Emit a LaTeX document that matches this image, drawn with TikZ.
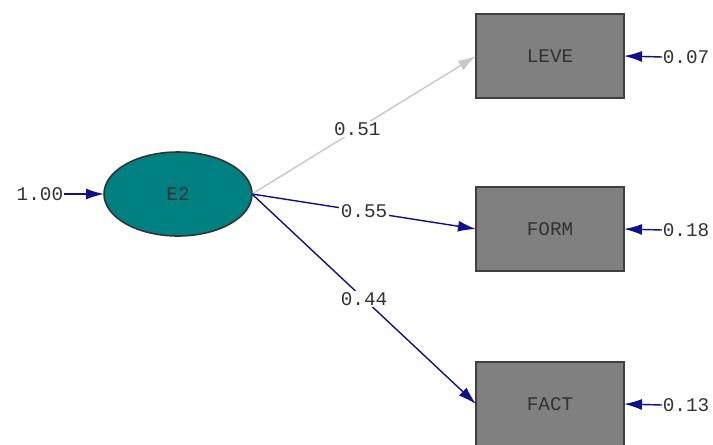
\documentclass[tikz,border=0pt]{standalone}
\usepackage{fontspec}
\setmonofont{Liberation Mono}
\usepackage{xcolor}
\usepackage{tikz}
\usetikzlibrary{arrows.meta, shapes.geometric}

\definecolor{tuerkis}{RGB}{0,128,128}
\definecolor{kasten}{RGB}{128,128,128}
\definecolor{marine}{RGB}{16,16,140}
\definecolor{hellgrau}{RGB}{200,200,200}
\definecolor{schrift}{RGB}{50,50,50}

\begin{document}
\begin{tikzpicture}[
    font=\ttfamily\fontsize{11}{13}\selectfont, text=schrift,
    latent/.style={ellipse, draw=black!80, line width=0.9pt, fill=tuerkis,
      minimum width=2.96cm, minimum height=1.68cm, inner sep=0pt, outer sep=0pt},
    manifest/.style={rectangle, draw=black!75, line width=0.9pt, fill=kasten,
      minimum width=2.96cm, minimum height=1.68cm, inner sep=0pt, outer sep=0pt},
    pfad/.style={draw=marine, line width=0.8pt, -{Latex[length=3.6mm,width=2.2mm]}},
    wert/.style={fill=white, inner sep=1pt},
    rand/.style={inner sep=0.5pt, outer sep=0pt}
  ]
  \useasboundingbox (0,0) rectangle (14.26,-8.88);
  % Knoten
  \node[latent] (E2) at (3.56,-3.88) {E2};
  \node[manifest] (LEVE) at (11.0,-1.12) {LEVE};
  \node[manifest] (FORM) at (11.0,-4.58) {FORM};
  \node[manifest] (FACT) at (11.0,-8.08) {FACT};
  % Varianz
  \node[rand, anchor=east] (v) at (1.28,-3.88) {1.00};
  \draw[pfad] (v.east) -- (E2.west);
  % Ladungen
  \draw[pfad, draw=hellgrau] (E2.east) -- (LEVE.west)
    node[wert, pos=0.47] {0.51};
  \draw[pfad] (E2.east) -- (FORM.west) node[wert, pos=0.5] {0.55};
  \draw[pfad] (E2.east) -- (FACT.west) node[wert, pos=0.5] {0.44};
  % Fehler
  \node[rand, anchor=west] (e1) at (13.24,-1.14) {0.07};
  \node[rand, anchor=west] (e2) at (13.24,-4.6) {0.18};
  \node[rand, anchor=west] (e3) at (13.24,-8.1) {0.13};
  \draw[pfad] (e1.west) -- (LEVE.east);
  \draw[pfad] (e2.west) -- (FORM.east);
  \draw[pfad] (e3.west) -- (FACT.east);
\end{tikzpicture}
\end{document}
